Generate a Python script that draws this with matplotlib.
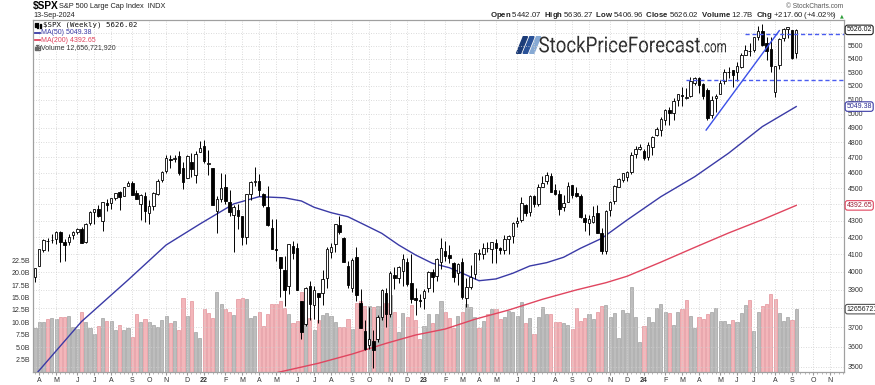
import math
import matplotlib
matplotlib.use("Agg")
import matplotlib.pyplot as plt
import matplotlib.transforms as mtrans
from matplotlib.patches import Polygon, Rectangle, PathPatch
from matplotlib.lines import Line2D
from matplotlib.textpath import TextPath
from matplotlib.font_manager import FontProperties
from matplotlib.ticker import FixedLocator, NullLocator, FuncFormatter
import pandas as pd

# weekly $SPX bars, week of 29-Mar-2021 .. week of 09-Sep-2024
opens = [3969, 4034, 4124, 4179, 4186, 4191, 4228, 4169, 4169, 4216, 4229, 4248, 4174, 4285, 4352, 4372, 4297, 4409, 4407, 4438,
         4474, 4450, 4513, 4535, 4470, 4403, 4449, 4348, 4386, 4464, 4553, 4610, 4689, 4689, 4712, 4628, 4566, 4669, 4587, 4733,
         4779, 4655, 4632, 4356, 4431, 4506, 4412, 4332, 4363, 4327, 4203, 4462, 4541, 4547, 4462, 4385, 4256, 4130, 4082, 4013,
         3920, 4151, 4135, 3838, 3715, 3920, 3816, 3880, 3883, 3966, 4112, 4158, 4270, 4195, 4034, 3910, 4084, 3830, 3682, 3610,
         3626, 3638, 3753, 3881, 3770, 3982, 3966, 4006, 4053, 3939, 3854, 3844,
         3853, 3911, 3999, 3979, 4053, 4119, 4097, 4052, 3992, 4055, 3855, 3917, 3986, 4102, 4102, 4138, 4132, 4166, 4136, 4126,
         4191, 4206, 4282, 4305, 4396, 4354, 4450, 4399, 4509, 4547, 4580, 4492, 4461, 4380, 4415, 4518, 4473, 4454, 4313, 4284,
         4289, 4343, 4223, 4120, 4365, 4418, 4511, 4555, 4573, 4607, 4725, 4758,
         4745, 4703, 4772, 4848, 4888, 4957, 5027, 5004, 5093, 5131, 5111, 5123, 5219, 5258, 5214, 5172, 4988, 5114, 5143, 5233,
         5305, 5316, 5298, 5341, 5432, 5459, 5471, 5572, 5615, 5524, 5477, 5151, 5354, 5561, 5636, 5623, 5442.07]
highs = [4020, 4130, 4191, 4194, 4218, 4238, 4238, 4187, 4220, 4234, 4255, 4262, 4287, 4355, 4372, 4393, 4415, 4430, 4441, 4470,
         4480, 4511, 4546, 4549, 4486, 4466, 4476, 4429, 4475, 4559, 4608, 4718, 4714, 4718, 4744, 4672, 4713, 4732, 4741, 4808,
         4819, 4749, 4632, 4453, 4596, 4590, 4490, 4396, 4402, 4327, 4465, 4546, 4637, 4594, 4471, 4513, 4308, 4307, 4082, 4090,
         4160, 4178, 4168, 3838, 3914, 3950, 3919, 3882, 4012, 4140, 4167, 4281, 4325, 4204, 4062, 4076, 4140, 3906, 3736, 3806,
         3686, 3762, 3906, 3912, 4002, 4029, 4034, 4101, 4077, 4101, 3907, 3878,
         3906, 4003, 4015, 4079, 4195, 4176, 4156, 4053, 4048, 4079, 3964, 4039, 4110, 4133, 4164, 4170, 4170, 4187, 4143, 4213,
         4212, 4291, 4322, 4448, 4401, 4458, 4456, 4528, 4578, 4607, 4595, 4528, 4491, 4458, 4541, 4520, 4509, 4465, 4338, 4333,
         4386, 4393, 4256, 4367, 4418, 4521, 4568, 4595, 4610, 4739, 4778, 4793,
         4755, 4802, 4843, 4907, 4975, 5030, 5048, 5111, 5140, 5189, 5180, 5262, 5265, 5264, 5220, 5180, 5123, 5139, 5240, 5325,
         5342, 5316, 5376, 5447, 5506, 5524, 5570, 5655, 5670, 5566, 5566, 5350, 5564, 5643, 5651, 5623, 5636.27]
lows = [3944, 4034, 4111, 4118, 4168, 4162, 4056, 4061, 4156, 4188, 4218, 4165, 4165, 4272, 4280, 4322, 4234, 4360, 4368, 4428,
        4367, 4450, 4512, 4458, 4433, 4306, 4288, 4278, 4365, 4459, 4537, 4595, 4631, 4672, 4585, 4495, 4566, 4574, 4531, 4733,
        4662, 4582, 4395, 4223, 4414, 4401, 4327, 4115, 4251, 4157, 4162, 4425, 4517, 4450, 4381, 4268, 4129, 4062, 3859, 3811,
        3875, 4074, 3900, 3637, 3705, 3739, 3742, 3721, 3818, 3911, 4080, 4112, 4218, 4057, 3907, 3887, 3838, 3694, 3584, 3590,
        3491, 3625, 3737, 3698, 3751, 3906, 3938, 3919, 3918, 3828, 3765, 3805,
        3794, 3886, 3885, 3949, 4015, 4061, 4048, 3943, 3928, 3847, 3809, 3902, 3960, 4069, 4073, 4114, 4049, 4048, 4099, 4099,
        4103, 4167, 4260, 4293, 4328, 4328, 4385, 4386, 4505, 4528, 4474, 4458, 4335, 4357, 4414, 4440, 4444, 4316, 4238, 4216,
        4284, 4224, 4104, 4103, 4330, 4402, 4511, 4537, 4546, 4594, 4695, 4752,
        4682, 4683, 4714, 4845, 4845, 4918, 4920, 4954, 5057, 5057, 5104, 5118, 5204, 5146, 5107, 4953, 4969, 5012, 5142, 5212,
        5257, 5191, 5234, 5328, 5428, 5420, 5452, 5546, 5497, 5391, 5303, 5120, 5326, 5540, 5561, 5402, 5406.96]
closes = [4020, 4129, 4185, 4180, 4181, 4233, 4174, 4156, 4204, 4230, 4247, 4166, 4281, 4352, 4370, 4327, 4412, 4395, 4437, 4468,
          4442, 4509, 4535, 4459, 4433, 4455, 4357, 4391, 4471, 4545, 4605, 4698, 4683, 4698, 4595, 4538, 4712, 4621, 4726, 4766,
          4677, 4663, 4398, 4432, 4501, 4419, 4349, 4385, 4329, 4204, 4463, 4543, 4546, 4488, 4393, 4272, 4132, 4123, 4024, 3901,
          4158, 4109, 3901, 3675, 3912, 3825, 3899, 3863, 3962, 4130, 4145, 4280, 4228, 4058, 3924, 4067, 3873, 3693, 3586, 3640,
          3583, 3753, 3901, 3771, 3993, 3965, 4026, 4072, 3934, 3852, 3845, 3840,
          3895, 3999, 3973, 4071, 4136, 4090, 4079, 3970, 4046, 3862, 3917, 3971, 4109, 4105, 4138, 4134, 4169, 4136, 4124, 4192,
          4205, 4282, 4299, 4410, 4348, 4450, 4399, 4505, 4536, 4582, 4478, 4464, 4370, 4406, 4516, 4457, 4450, 4320, 4288, 4309,
          4328, 4224, 4117, 4358, 4415, 4514, 4559, 4595, 4604, 4719, 4755, 4770,
          4697, 4784, 4840, 4891, 4959, 5027, 5006, 5089, 5137, 5124, 5117, 5234, 5254, 5204, 5123, 4967, 5100, 5128, 5223, 5303,
          5305, 5278, 5347, 5432, 5465, 5460, 5567, 5615, 5505, 5459, 5347, 5344, 5554, 5635, 5648, 5408.42, 5626.02]
# weekly volume, billions of shares
volumes = [8.8, 10.0, 10.1, 10.6, 10.9, 10.6, 11.0, 11.1, 11.3, 9.0, 8.6, 12.0, 10.0, 8.9, 7.7, 9.3, 10.9, 10.2, 10.2, 8.4,
           9.5, 8.4, 8.9, 7.0, 11.6, 10.1, 10.7, 10.1, 9.5, 9.0, 10.4, 11.3, 9.9, 10.3, 8.5, 15.0, 11.3, 14.4, 8.1, 6.8,
           12.6, 11.9, 10.9, 16.1, 13.7, 12.6, 12.0, 11.5, 14.7, 15.0, 14.8, 10.9, 11.3, 12.0, 9.2, 11.7, 13.6, 13.6, 14.3, 12.8,
           11.6, 9.8, 10.3, 16.2, 11.1, 10.8, 8.5, 10.5, 11.5, 11.8, 11.3, 10.1, 9.1, 9.1, 10.7, 8.6, 13.9, 14.4, 13.3, 13.2,
           13.0, 13.3, 13.3, 13.8, 15.5, 12.0, 8.0, 11.8, 11.1, 13.5, 10.5, 6.6,
           9.3, 11.6, 9.9, 11.7, 14.3, 12.1, 10.9, 8.9, 11.3, 12.1, 13.7, 13.0, 11.1, 8.9, 10.3, 11.6, 12.6, 12.6, 10.6, 11.1,
           12.2, 12.0, 11.3, 14.1, 9.8, 10.8, 7.6, 11.1, 13.1, 11.6, 11.6, 10.0, 10.0, 9.8, 9.5, 8.7, 12.8, 10.3, 10.8, 11.6,
           10.6, 12.1, 13.2, 13.5, 11.1, 11.8, 6.8, 12.5, 11.9, 17.2, 11.0, 6.1,
           9.3, 11.0, 10.0, 12.8, 13.6, 12.1, 11.8, 9.5, 12.0, 12.7, 14.6, 11.3, 8.9, 11.0, 10.7, 11.7, 12.1, 12.8, 10.3, 10.3,
           9.7, 10.4, 10.1, 11.8, 13.5, 14.5, 8.3, 12.1, 13.3, 13.7, 15.8, 14.7, 11.8, 10.3, 11.1, 10.5, 12.66]
prev_close = 3974.54          # close of the week before the first bar
last_volume = 12656721920
chart_date = "13-Sep-2024"
first_monday = "2021-03-29"
future_weeks = 12

# moving averages (bar index, value)
ma50_x = [0, 11, 22, 31, 39, 47, 53, 59, 63, 66, 70, 74, 78, 82, 86, 90, 94, 98, 102, 105, 109, 113, 117, 121, 125, 129,
          134, 140, 148, 156, 164, 172, 180]
ma50_y = [3457, 3729, 3954, 4154, 4279, 4402, 4447, 4440, 4420, 4381, 4348, 4323, 4273, 4223, 4154, 4096, 4048, 4023, 3982,
          3950, 3960, 3992, 4033, 4052, 4083, 4135, 4193, 4303, 4447, 4574, 4728, 4909, 5049.38]
ma200_x = [52, 57, 67, 75, 83, 90, 97, 104, 112, 120, 128, 135, 140, 148, 156, 164, 172, 180]
ma200_y = [3445, 3469, 3516, 3562, 3616, 3659, 3690, 3741, 3790, 3848, 3899, 3939, 3975, 4055, 4140, 4225, 4305, 4392.65]

# hand-drawn annotations
level_values = [5595, 5242]
level_start = [168, 154]
trend_x = [158.7, 176]
trend_y = [4885, 5620]

W, H = 875, 385


def fx(px):
    return px / W


def fy(py):
    return 1 - py / H


plt.rcParams["font.family"] = ["Liberation Sans", "DejaVu Sans"]
plt.rcParams["mathtext.fontset"] = "custom"
plt.rcParams["mathtext.rm"] = "Liberation Sans"
plt.rcParams["mathtext.bf"] = "Liberation Sans:bold"

n = len(closes)
x = list(range(n))
dates = pd.date_range(first_monday, periods=n + future_weeks, freq="W-MON")
xmin, xmax = -0.4, 191.3
ylo, yhi = 3473, 5709
vmax = 71

fig = plt.figure(figsize=(8.75, 3.85), dpi=100)
ax_top, ax_bot = 19.5, 372
ax = fig.add_axes([fx(33.3), fy(ax_bot), fx(844) - fx(33.3), fy(ax_top) - fy(ax_bot)])
axv = ax.twinx()
ax.set_zorder(axv.get_zorder() + 1)
ax.patch.set_visible(False)

# volume bars, red when close is below the prior close
prev = [prev_close] + closes[:-1]
down = [c < p for c, p in zip(closes, prev)]
axv.bar(x, volumes, width=0.74,
        color=["#f3b6ba" if d else "#bdbdbd" for d in down],
        edgecolor=["#e3939a" if d else "#a2a2a2" for d in down], linewidth=0.5)
axv.set_ylim(0, vmax)
axv.yaxis.tick_left()
vt = [2.5 * k for k in range(1, 10)]
axv.set_yticks(vt)
axv.set_yticklabels([f"{v:.1f}B" for v in vt])
axv.tick_params(axis="y", labelsize=5, pad=2.5, length=0, labelcolor="#333333")

# candles
bottoms = [min(o, c) for o, c in zip(opens, closes)]
heights = [abs(c - o) for o, c in zip(opens, closes)]
fills = ["white" if c >= o else "black" for o, c in zip(opens, closes)]
ax.vlines(x, lows, highs, color="black", linewidth=0.7, zorder=3)
ax.bar(x, heights, bottom=bottoms, width=0.6, color=fills, edgecolor="black", linewidth=0.6, zorder=4)

ax.plot(ma50_x, ma50_y, color="#3a3aa6", lw=1.0, zorder=2.5)
ax.plot(ma200_x, ma200_y, color="#e0455f", lw=1.0, zorder=2.5)

for lvl, s in zip(level_values, level_start):
    ax.plot([s, xmax], [lvl, lvl], color="#4a5cf0", lw=1.0, ls=(0, (3, 2)), zorder=5)
ax.plot(trend_x, trend_y, color="#3b50e8", lw=1.0, zorder=5)

ax.set_yscale("log")

# price labels that sit under the value boxes are hidden, as on the chart
px_per_ln = (ax_bot - ax_top) / math.log(yhi / ylo)
vol_price = ylo * math.exp(volumes[-1] / vmax * math.log(yhi / ylo))
box_levels = [closes[-1], ma50_y[-1], ma200_y[-1], vol_price]


def price_label(v, pos):
    if any(abs(math.log(v / b)) * px_per_ln < 5.5 for b in box_levels):
        return ""
    return f"{v:.0f}"


price_ticks = list(range(3500, 5601, 100))
ax.yaxis.set_major_locator(FixedLocator(price_ticks))
ax.yaxis.set_minor_locator(NullLocator())
ax.yaxis.set_major_formatter(FuncFormatter(price_label))
ax.yaxis.tick_right()
ax.tick_params(axis="y", labelsize=5, pad=2.5, length=0, labelcolor="#333333")

month_pos = [i for i in range(1, len(dates)) if dates[i].month != dates[i - 1].month]
month_lab = [dates[i].strftime("%y") if dates[i].month == 1 else dates[i].strftime("%b")[0] for i in month_pos]
ax.set_xticks(month_pos)
ax.set_xticklabels(month_lab)
for t, i in zip(ax.get_xticklabels(), month_pos):
    if dates[i].month == 1:
        t.set_fontweight("bold")
ax.set_xticks(range(len(dates)), minor=True)
ax.tick_params(axis="x", which="major", labelsize=5, pad=1.5, length=2, color="#999999", labelcolor="#333333")
ax.tick_params(axis="x", which="minor", length=1.2, color="#aaaaaa")
ax.set_xlim(xmin, xmax)
ax.set_ylim(ylo, yhi)

ax.grid(True, which="major", color="#cfcfcf", linestyle=(0, (1, 2)), linewidth=0.6)
ax.set_axisbelow(True)
for a in (ax, axv):
    for sp in a.spines.values():
        sp.set_color("#a0a0a0")
        sp.set_linewidth(0.8)

# value boxes on the right edge
tr = mtrans.blended_transform_factory(ax.transAxes, ax.transData)


def value_box(y, txt, ec, tc, transform):
    ax.text(1.003, y, txt, transform=transform, fontsize=5, color=tc, va="center", ha="left",
            bbox=dict(boxstyle="round,pad=0.18,rounding_size=0.35", fc="white", ec=ec, lw=0.8),
            clip_on=False, zorder=10)


value_box(closes[-1], f"{closes[-1]:.2f}", "#222222", "#111111", tr)
value_box(ma50_y[-1], f"{ma50_y[-1]:.2f}", "#3a3aa6", "#2a2a90", tr)
value_box(ma200_y[-1], f"{ma200_y[-1]:.2f}", "#e0455f", "#9a1c33", tr)
value_box(volumes[-1] / vmax, f"{last_volume}", "#555555", "#222222", ax.transAxes)

# header
fig.text(fx(33), fy(6.5), "$SPX", fontsize=7.3, fontweight="bold", va="center", parse_math=False)
fig.text(fx(59), fy(6.8), "S&P 500 Large Cap Index  INDX", fontsize=5.3, va="center", color="#222222")
fig.text(fx(33), fy(15.8), chart_date, fontsize=5.2, va="center", color="#222222")
fig.text(fx(843), fy(6), "\u00a9 StockCharts.com", fontsize=4.8, ha="right", va="center", color="#555555")
chg = closes[-1] - closes[-2]
ohlc = (r"$\bf{Open}$ " + f"{opens[-1]:.2f}  " + r"$\bf{High}$ " + f"{highs[-1]:.2f}  "
        + r"$\bf{Low}$ " + f"{lows[-1]:.2f}  " + r"$\bf{Close}$ " + f"{closes[-1]:.2f}  "
        + r"$\bf{Volume}$ " + f"{last_volume / 1e9:.1f}B  " + r"$\bf{Chg}$ "
        + f"+{chg:.2f} (+{chg / closes[-2] * 100:.2f}%)")
fig.text(fx(837.5), fy(15.8), ohlc, fontsize=5.6, ha="right", va="center", color="#222222")
fig.text(fx(841.5), fy(16), "\u25b2", fontsize=3.5, ha="center", va="center", color="#2e9e3a", family="DejaVu Sans")

# legend block inside the plot
fig.add_artist(Rectangle((fx(34.5), fy(27)), 1.2 / W, 4 / H, transform=fig.transFigure, color="black"))
fig.add_artist(Rectangle((fx(37), fy(28)), 1.2 / W, 5 / H, transform=fig.transFigure, color="black"))
fig.add_artist(Rectangle((fx(39.5), fy(27.5)), 1.2 / W, 4 / H, transform=fig.transFigure, color="black"))
fig.text(fx(43), fy(25), f"$SPX (Weekly) {closes[-1]:.2f}", family="DejaVu Sans Mono", fontsize=5.3,
         va="center", color="#111111", parse_math=False)
fig.add_artist(Line2D([fx(34.5), fx(40)], [fy(32.8), fy(32.8)], transform=fig.transFigure, color="#3a3aa6", lw=1.3))
fig.text(fx(41), fy(32.8), f"MA(50) {ma50_y[-1]:.2f}", fontsize=5, va="center", color="#3a3aa6")
fig.add_artist(Line2D([fx(34.5), fx(40)], [fy(40), fy(40)], transform=fig.transFigure, color="#e0455f", lw=1.3))
fig.text(fx(41), fy(40), f"MA(200) {ma200_y[-1]:.2f}", fontsize=5, va="center", color="#e0455f")
for k, hgt in enumerate([3, 5, 4]):
    fig.add_artist(Rectangle((fx(34.5 + k * 1.9), fy(49.5)), 1.4 / W, hgt / H, transform=fig.transFigure,
                             color="#666666"))
fig.text(fx(41), fy(47.3), f"Volume {last_volume:,}", fontsize=5, va="center", color="#333333")

# watermark logo, glyph outlines stretched to the logo's box (figure pixels, origin top-left)
slash_cols = ["#1c3c78", "#2a5298", "#86a9d4"]
for k, col in enumerate(slash_cols):
    x0 = 516.5 + k * 6.6
    pts = [(fx(x0), fy(53.3)), (fx(x0 + 4.2), fy(53.3)), (fx(x0 + 11.0), fy(36.7)), (fx(x0 + 6.8), fy(36.7))]
    fig.add_artist(Polygon(pts, closed=True, transform=fig.transFigure, color=col))

logo_font = FontProperties(family="Roboto")


def logo_word(txt, left, right, base, ref_height, ref_frac):
    path = TextPath((0, 0), txt, size=1, prop=logo_font)
    ext = path.get_extents()
    sx = (right - left) / ext.width
    sy = ref_height / ref_frac
    t = (mtrans.Affine2D().translate(-ext.x0, 0).scale(sx / W, sy / H)
         .translate(fx(left), fy(base)) + fig.transFigure)
    fig.add_artist(PathPatch(path, transform=t, color="#2e2e2e", lw=0))


logo_word("StockPriceForecast", 539.3, 700.0, 52.3, 15.6, 0.711)
logo_word(".com", 701.7, 726.0, 52.3, 9.0, 0.528)

fig.savefig("out.png", dpi=100)
